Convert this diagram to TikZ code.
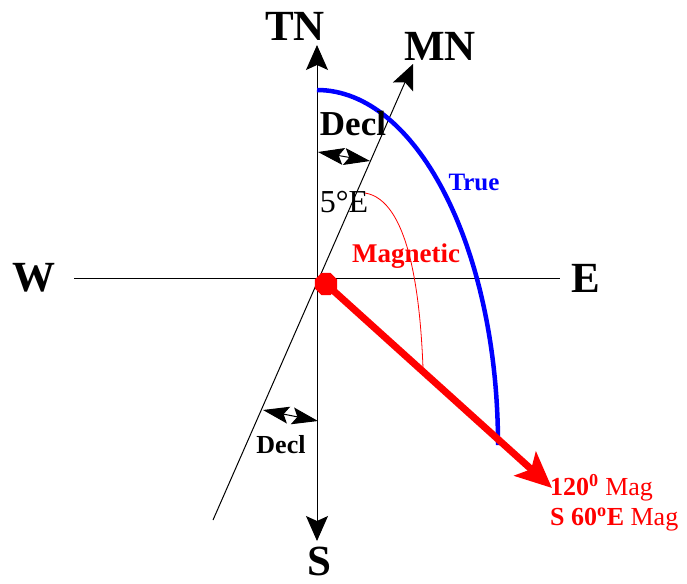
\documentclass[tikz,border=0pt]{standalone}
\usepackage{fontspec}
\setmainfont{Liberation Serif}
\usetikzlibrary{arrows.meta, positioning, shapes.geometric}

\begin{document}
\begin{tikzpicture}[
        x=1pt, y=-1pt,
        axis/.style={line width=1pt, color=black},
        axistip/.style={-{Stealth[length=25pt, width=22pt, inset=5pt]}},
        declarrow/.style={{Stealth[length=26pt, width=17pt, inset=5pt]}-{Stealth[length=26pt, width=17pt, inset=5pt]}, line width=1pt},
        dirlabel/.style={font=\fontsize{43}{43}\selectfont\bfseries, inner sep=0pt},
        decllabel/.style={font=\bfseries, inner sep=0pt},
        truearc/.style={line width=4.5pt, color=blue},
        magarrow/.style={-{Stealth[length=36pt, width=32pt, inset=8pt]}, line width=7pt, color=red},
        redlabel/.style={font=\fontsize{26}{30}\selectfont, text=red, inner sep=0pt, align=left}
    ]
        \useasboundingbox (0,0) rectangle (687,583);

        % axes
        \coordinate (O) at (317,278);
        \coordinate (northtip) at (317,45);
        \coordinate (southtip) at (317,541);
        \coordinate (westend) at (74,278);
        \coordinate (eastend) at (560,278);
        \coordinate (mntip) at (413,64);
        \coordinate (mntail) at (213,520);

        \draw[axis, axistip] (O) -- (northtip);
        \draw[axis, axistip] (O) -- (southtip);
        \draw[axis] (westend) -- (eastend);
        \draw[axis, axistip] (mntail) -- (mntip);

        \node[dirlabel] (tnlabel) at (295,26) {TN};
        \node[dirlabel] (mnlabel) at (440,46) {MN};
        \node[dirlabel] (wlabel) at (34,278) {W};
        \node[dirlabel] (elabel) at (586,278) {E};
        \node[dirlabel] (slabel) at (319,561) {S};

        % true bearing arc
        \coordinate (truetop) at (317,90);
        \draw[truearc] (truetop) arc[start angle=-90, end angle=0, x radius=181, y radius=355] coordinate (trueend);
        \node[font=\fontsize{25}{25}\selectfont\bfseries, text=blue, inner sep=0pt] (truelabel) at (474,182) {True};

        % declination
        \coordinate (decla) at (318,152);
        \coordinate (declb) at (370,161);
        \coordinate (declc) at (263,410);
        \coordinate (decld) at (318,421);
        \draw[declarrow] (decla) -- (declb);
        \draw[declarrow] (declc) -- (decld);
        \node[decllabel, font=\fontsize{35}{35}\selectfont\bfseries] (declup) at (353,124) {Decl};
        \node[decllabel, font=\fontsize{26}{26}\selectfont\bfseries] (decllow) at (281,445) {Decl};
        \node[font=\fontsize{32}{32}\selectfont, inner sep=0pt] (declval) at (344,202) {5°E};

        % magnetic bearing
        \node[regular polygon, regular polygon sides=8, fill=red, minimum size=24pt, inner sep=0pt] (magdot) at (326,284) {};
        \coordinate (magtip) at (552,488);
        \draw[magarrow] (magdot.center) -- (magtip);
        \coordinate (magstart) at (365,193);
        \coordinate (magend) at (423,368);
        \draw[red, line width=0.8pt] (magstart) .. controls (408,200) and (420,290) .. (magend);
        \node[redlabel, font=\fontsize{27}{27}\selectfont\bfseries] (maglabel) at (406,256) {Magnetic};
        \node[redlabel, anchor=north west] (bearing) at (550,474) {\textbf{120\textsuperscript{0}} Mag\\\textbf{S 60\textsuperscript{o}E} Mag};
    \end{tikzpicture}
\end{document}
